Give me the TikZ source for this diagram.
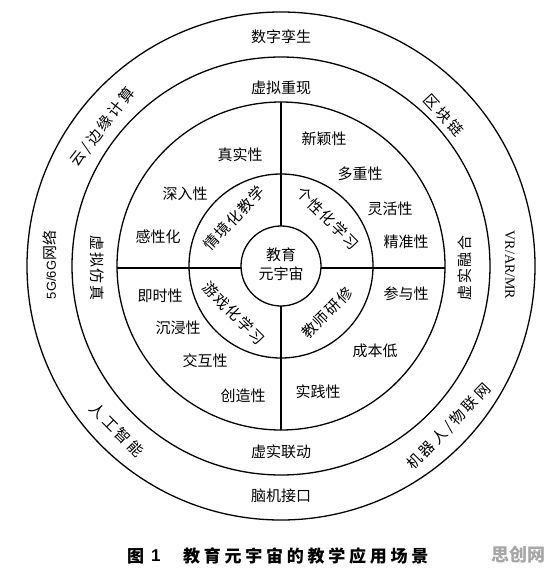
\documentclass[tikz,border=0pt]{standalone}
\usepackage{fontspec}
\setmainfont{Liberation Serif}
\newfontfamily\cjk{Noto Sans CJK SC}
\newfontfamily\cjksp[LetterSpace=18]{Noto Sans CJK SC}
\newfontfamily\cjkmid[LetterSpace=10]{Noto Sans CJK SC}
\newfontfamily\cjkcap[LetterSpace=22]{Noto Sans CJK SC}
\begin{document}
\begin{tikzpicture}[x=1pt,y=-1pt,
  lab/.style={font=\cjk\fontsize{15}{17}\selectfont, inner sep=0pt, align=center},
  arclab/.style={font=\cjksp\fontsize{15}{17}\selectfont, inner sep=0pt},
  midlab/.style={font=\cjkmid\fontsize{15}{17}\selectfont, inner sep=0pt},
  ring/.style={line width=1.3pt, draw=black}]
\useasboundingbox[fill=white] (0,0) rectangle (558,578);
\coordinate (c) at (281,266);
% circles
\draw[ring] (c) circle (40pt);
\draw[ring] (c) circle (92pt);
\draw[ring] (c) circle (164pt);
\draw[ring] (c) circle (209pt);
\draw[ring] (c) circle (254pt);
% cross lines
\coordinate (vt) at (281,102); \coordinate (vti) at (281,226);
\coordinate (vb) at (281,430); \coordinate (vbi) at (281,306);
\coordinate (hl) at (117,268); \coordinate (hli) at (241.5,268);
\coordinate (hr) at (445,268); \coordinate (hri) at (320.5,268);
\draw[ring] (vt) -- (vti);
\draw[ring] (vb) -- (vbi);
\draw[ring] (hl) -- (hli);
\draw[ring] (hr) -- (hri);
% centre
\node[lab] (core) at (281,264) {教育\\[2pt]元宇宙};
% ring 2
\node[midlab, rotate=47] (r2a) at (234,218) {情境化教学};
\node[midlab, rotate=-45] (r2b) at (328,218) {个性化学习};
\node[midlab, rotate=-45] (r2c) at (234,313) {游戏化学习};
\node[midlab, rotate=45] (r2d) at (327,313) {教师研修};
% ring 3
\node[lab] (t1) at (240,155) {真实性};
\node[lab] (t2) at (185,194) {深入性};
\node[lab] (t3) at (158,237) {感性化};
\node[lab] (t4) at (160,296) {即时性};
\node[lab] (t5) at (178,328) {沉浸性};
\node[lab] (t6) at (205,361) {交互性};
\node[lab] (t7) at (243,396) {创造性};
\node[lab] (t8) at (324,139) {新颖性};
\node[lab] (t9) at (360,174) {多重性};
\node[lab] (t10) at (390,209) {灵活性};
\node[lab] (t11) at (406,242) {精准性};
\node[lab] (t12) at (406,294) {参与性};
\node[lab] (t13) at (375,351) {成本低};
\node[lab] (t14) at (318,392) {实践性};
% ring 4
\node[lab] (m1) at (281,88) {虚拟重现};
\node[lab] (m2) at (281,452) {虚实联动};
\node[midlab, rotate=-90] (m3) at (97,268) {虚拟仿真};
\node[midlab, rotate=90] (m4) at (465,268) {虚实融合};
% ring 5
\node[lab] (o1) at (281,37) {数字孪生};
\node[lab] (o2) at (281,496) {脑机接口};
\node[arclab, rotate=52] (o3) at (103,127) {云/边缘计算};
\node[arclab, rotate=-47] (o4) at (444,115) {区块链};
\node[lab, rotate=90] (o5) at (50,265) {{\fontspec{Liberation Sans}\fontsize{13}{13}\selectfont 5G/6G}网络};
\node[lab, rotate=-90, font=\fontsize{14}{14}\selectfont] (o6) at (510,265) {VR/AR/MR};
\node[arclab, rotate=-45] (o7) at (117,430) {人工智能};
\node[arclab, rotate=46] (o8) at (449,427) {机器人/物联网};
% caption
\node[inner sep=0pt, anchor=west, font=\cjk\bfseries\fontsize{17}{17}\selectfont] (cap1) at (127,556) {图};
\node[inner sep=0pt, anchor=west, font=\fontspec{Liberation Sans}\bfseries\fontsize{17}{17}\selectfont] (cap2) at (151,556) {1};
\node[inner sep=0pt, anchor=west, font=\cjkcap\bfseries\fontsize{17}{17}\selectfont] (cap3) at (183,556) {教育元宇宙的教学应用场景};
\node[inner sep=0pt, anchor=east, text=black!35, font=\cjk\bfseries\fontsize{18}{18}\selectfont] (wm) at (546,555) {思创网};
\end{tikzpicture}
\end{document}
